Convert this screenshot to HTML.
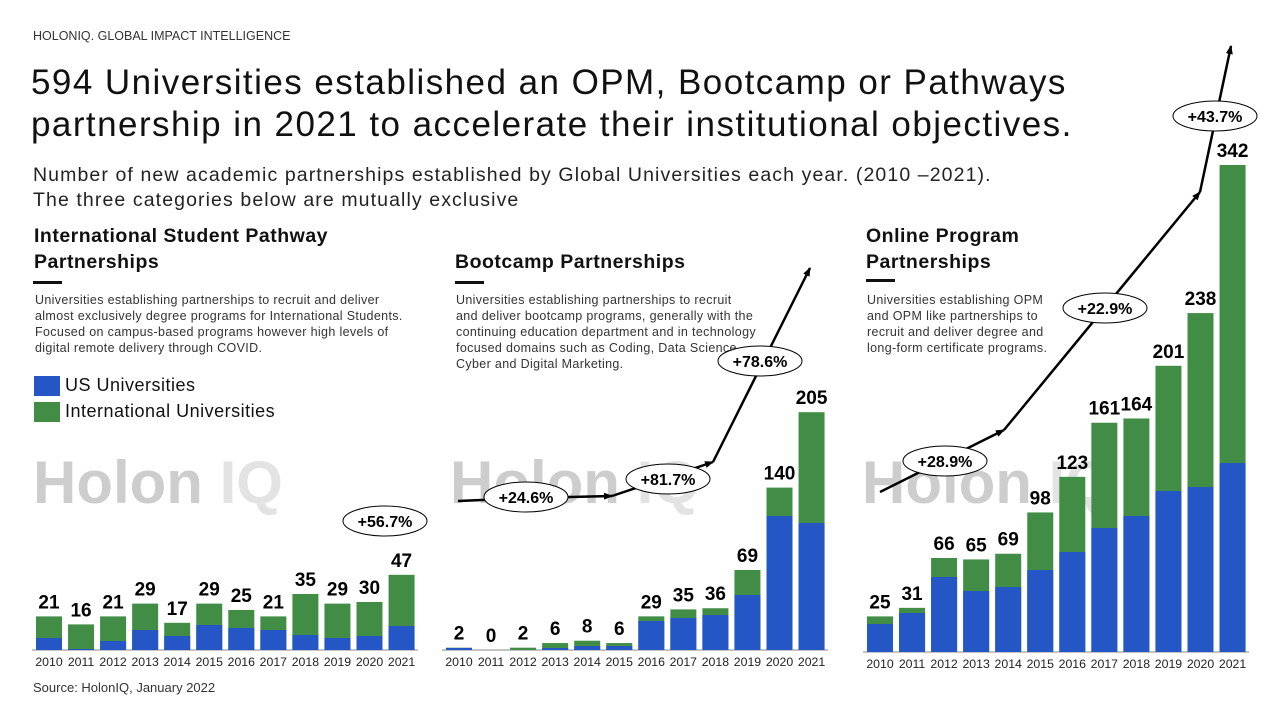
<!DOCTYPE html>
<html><head><meta charset="utf-8"><style>
body{margin:0;width:1280px;height:718px;background:#fff;overflow:hidden;font-family:"Liberation Sans",sans-serif;color:#111;position:relative}
.a{position:absolute;white-space:nowrap}
.h{font-weight:bold;font-size:19.5px;line-height:26px;letter-spacing:0.5px}
.d{font-size:12.5px;line-height:16px;color:#333;white-space:normal;letter-spacing:0.35px}
.bar{position:absolute;left:0;top:0}
</style></head><body>
<div class="a" style="left:33px;top:29px;font-size:12.5px;color:#333">HOLONIQ. GLOBAL IMPACT INTELLIGENCE</div>
<div class="a" style="left:31px;top:62px;font-size:35px;line-height:42px;letter-spacing:1.45px">594 Universities established an OPM, Bootcamp or Pathways<br>partnership in 2021 to accelerate their institutional objectives.</div>
<div class="a" style="left:33px;top:163px;font-size:19.5px;line-height:25px;color:#222;letter-spacing:1.1px">Number of new academic partnerships established by Global Universities each year. (2010 –2021).<br>The three categories below are mutually exclusive</div>
<div class="a h" style="left:34px;top:223px">International Student Pathway<br>Partnerships</div>
<div class="a" style="left:33px;top:281px;width:29px;height:3px;background:#111"></div>
<div class="a d" style="left:35px;top:292px;width:370px">Universities establishing partnerships to recruit and deliver almost exclusively degree programs for International Students. Focused on campus-based programs however high levels of digital remote delivery through COVID.</div>
<div class="a" style="left:34px;top:376px;width:26px;height:20px;background:#2457c5"></div>
<div class="a" style="left:34px;top:402px;width:26px;height:20px;background:#428d45"></div>
<div class="a" style="left:65px;top:375px;font-size:18px;letter-spacing:0.5px">US Universities</div>
<div class="a" style="left:65px;top:401px;font-size:18px;letter-spacing:0.5px">International Universities</div>
<div class="a h" style="left:455px;top:249px">Bootcamp Partnerships</div>
<div class="a" style="left:455px;top:281px;width:29px;height:3px;background:#111"></div>
<div class="a d" style="left:456px;top:292px;width:300px">Universities establishing partnerships to recruit and deliver bootcamp programs, generally with the continuing education department and in technology focused domains such as Coding, Data Science, Cyber and Digital Marketing.</div>
<div class="a h" style="left:866px;top:223px">Online Program<br>Partnerships</div>
<div class="a" style="left:866px;top:279px;width:29px;height:3px;background:#111"></div>
<div class="a d" style="left:867px;top:292px;width:195px">Universities establishing OPM and OPM like partnerships to recruit and deliver degree and long-form certificate programs.</div>
<div class="a" style="left:33px;top:680px;font-size:13px;color:#333">Source: HolonIQ, January 2022</div>
<svg class="bar" width="1280" height="718" id="s" font-family="Liberation Sans, sans-serif"></svg>
<script>
var s='';
function wm(x){s+='<text x="'+x+'" y="503" font-size="60" font-weight="bold" fill="#c8c8c8" opacity="0.9">Holon <tspan fill="#e0e0e0">IQ</tspan></text>';}
wm(33);wm(450);wm(862);
function chart(x0,base,sc,tot,blue){
 s+='<line x1="'+(x0-4)+'" x2="'+(x0+32*11+30)+'" y1="'+base+'" y2="'+base+'" stroke="#888" stroke-width="1"/>';
 for(var i=0;i<12;i++){var x=x0+i*32.05,h=tot[i]*sc,b=blue[i];
  s+='<rect x="'+x+'" y="'+(base-h)+'" width="26" height="'+h+'" fill="#428d45"/>';
  s+='<rect x="'+x+'" y="'+(base-b)+'" width="26" height="'+b+'" fill="#2457c5"/>';
  s+='<text x="'+(x+13)+'" y="'+(base-h-8)+'" font-size="19" font-weight="bold" text-anchor="middle">'+tot[i]+'</text>';
  s+='<text x="'+(x+13)+'" y="'+(base+16)+'" font-size="12.3" text-anchor="middle" fill="#222">'+(2010+i)+'</text>';}
}
chart(36,650,1.6,[21,16,21,29,17,29,25,21,35,29,30,47],[12,1,9,20,14,25,22,20,15,12,14,24]);
chart(446,650,1.16,[2,0,2,6,8,6,29,35,36,69,140,205],[2,0,0,2,4,4,29,32,35,55,134,127]);
chart(867,652,1.424,[25,31,66,65,69,98,123,161,164,201,238,342],[28,39,75,61,65,82,100,124,136,161,165,189]);
s+='<defs><marker id="m" markerUnits="userSpaceOnUse" markerWidth="9" markerHeight="7" refX="8" refY="3.5" orient="auto"><path d="M0,0L9,3.5L0,7z" fill="#000"/></marker></defs>';
function arr(p){s+='<polyline points="'+p+'" fill="none" stroke="#000" stroke-width="2.5" marker-end="url(#m)"/>';}
arr('458,501 528,498 612,496');arr('612,496 713,462');arr('713,462 810,268');
arr('880,492 1004,430');arr('1004,430 1200,192');arr('1200,192 1231,46');
function el(cx,cy,t){s+='<ellipse cx="'+cx+'" cy="'+cy+'" rx="42" ry="15" fill="#fff" stroke="#000" stroke-width="1"/><text x="'+cx+'" y="'+(cy+6)+'" font-size="16" font-weight="bold" text-anchor="middle">'+t+'</text>';}
el(385,521,'+56.7%');el(526,497,'+24.6%');el(668,479,'+81.7%');el(760,361,'+78.6%');
el(945,461,'+28.9%');el(1105,308,'+22.9%');el(1215,116,'+43.7%');
document.getElementById('s').innerHTML=s;
</script>
</body></html>
